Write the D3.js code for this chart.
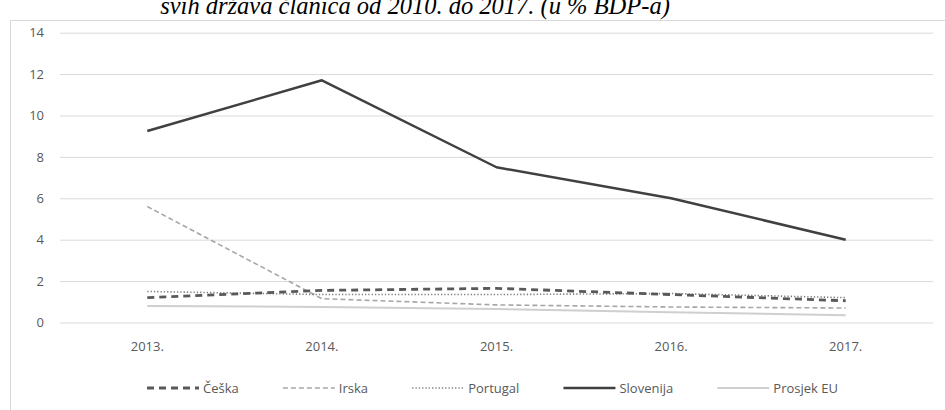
<!DOCTYPE html>
<html><head><meta charset="utf-8">
<script src="https://cdn.jsdelivr.net/npm/d3@7"></script>
<style>html,body{margin:0;padding:0;background:#fff;}svg{display:block;}</style>
</head><body>
<svg id="c" width="945" height="410"></svg>
<script>
const years = ["2013.", "2014.", "2015.", "2016.", "2017."];
const yTicks = [0, 2, 4, 6, 8, 10, 12, 14];
const ceska = [1.2, 1.55, 1.65, 1.35, 1.05];
const irska = [5.6, 1.15, 0.85, 0.75, 0.7];
const portugal = [1.5, 1.35, 1.35, 1.4, 1.2];
const slovenija = [9.25, 11.7, 7.5, 6.0, 4.0];
const prosjekEU = [0.8, 0.75, 0.65, 0.5, 0.35];
const seriesNames = ["Češka", "Irska", "Portugal", "Slovenija", "Prosjek EU"];
const titleText = "svih država članica od 2010. do 2017. (u % BDP-a)";

const styles = [
  {color:"#595959", width:2.8, dash:"7,5"},
  {color:"#a6a6a6", width:1.6, dash:"5,3"},
  {color:"#7f7f7f", width:1.6, dash:"1.3,2"},
  {color:"#404040", width:2.5, dash:null},
  {color:"#cfcfcf", width:2, dash:null}
];
const seriesData = [ceska, irska, portugal, slovenija, prosjekEU];

const svg = d3.select("#c");
const font = "'Open Sans',sans-serif";

// title (cut off at top, as in the reference)
svg.append("text").attr("x", 415).attr("y", 14)
  .attr("text-anchor","middle")
  .attr("font-family","'Liberation Serif','Times New Roman',serif")
  .attr("font-style","italic").attr("font-size",24.5).attr("fill","#000")
  .text(titleText);

// chart border
svg.append("path").attr("d","M10.5,420 V20.5 H960")
  .attr("fill","none").attr("stroke","#d9d9d9").attr("stroke-width",1);

const x = d3.scaleBand().domain(years).range([60, 933]);
const y = d3.scaleLinear().domain([0,14]).range([322.5, 32.7]);

// gridlines + y labels
const yAxis = d3.axisLeft(y).tickValues(yTicks).tickSize(-(933-60)).tickPadding(16);
const gy = svg.append("g").attr("transform","translate(60,0)").call(yAxis);
gy.select(".domain").remove();
gy.selectAll(".tick line").attr("stroke","#d9d9d9").attr("stroke-width",1);
gy.selectAll(".tick text").attr("font-family",font).attr("font-size",13).attr("fill","#595959");

// x labels
const xAxis = d3.axisBottom(x).tickSize(0).tickPadding(19);
const gx = svg.append("g").attr("transform","translate(0,322.5)").call(xAxis);
gx.select(".domain").remove();
gx.selectAll(".tick text").attr("font-family",font).attr("font-size",13).attr("fill","#595959");

const line = d3.line().x((d,i)=>x(years[i])+x.bandwidth()/2).y(d=>y(d));
const order = [4,1,2,0,3];
order.forEach(k=>{
  const s = styles[k];
  svg.append("path").datum(seriesData[k]).attr("d",line)
    .attr("fill","none").attr("stroke",s.color).attr("stroke-width",s.width)
    .attr("stroke-dasharray",s.dash).attr("stroke-linejoin","round");
});

// legend
const lg = svg.append("g");
const ly = 388;
const items = [];
seriesNames.forEach((n,k)=>{
  const g = lg.append("g");
  g.append("line").attr("x1",0).attr("x2",52).attr("y1",0).attr("y2",0)
    .attr("stroke",styles[k].color).attr("stroke-width",styles[k].width)
    .attr("stroke-dasharray",styles[k].dash);
  const t = g.append("text").attr("x",56).attr("y",4.5).attr("font-family",font)
    .attr("font-size",13).attr("fill","#595959").text(n);
  const w = 56 + t.node().getComputedTextLength();
  items.push({g,w});
});
const left = 147, right = 838;
const gap = (right - left - d3.sum(items,d=>d.w)) / (items.length-1);
let cx = left;
items.forEach(it=>{ it.g.attr("transform",`translate(${cx},${ly})`); cx += it.w + gap; });
</script>
</body></html>
